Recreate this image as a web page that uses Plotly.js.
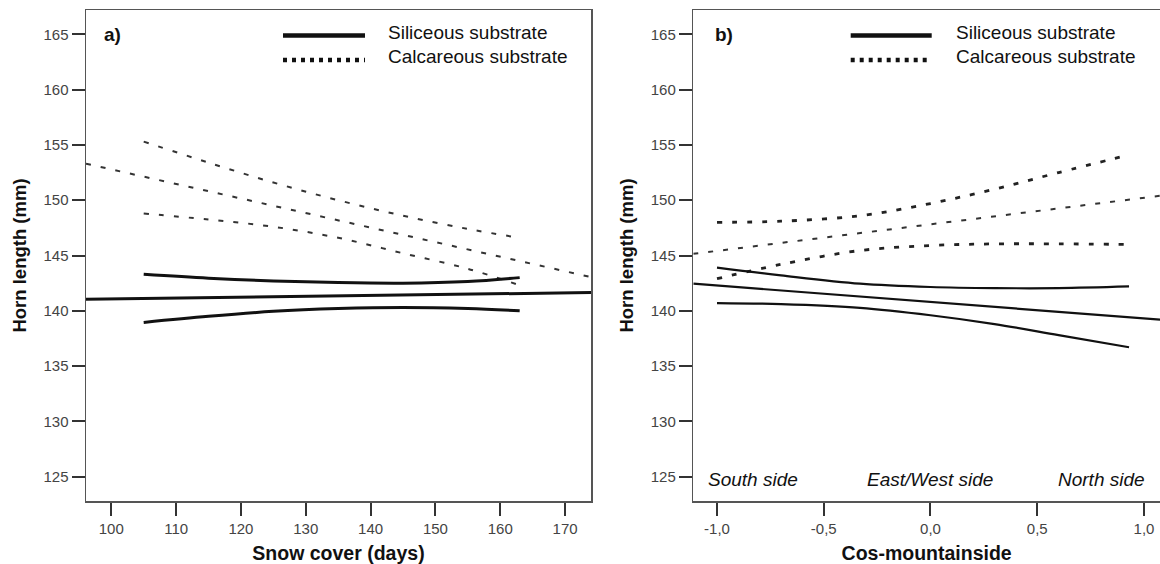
<!DOCTYPE html>
<html>
<head>
<meta charset="utf-8">
<script src="https://cdn.plot.ly/plotly-3.0.1.min.js"></script>
<style>html,body{margin:0;padding:0;background:#fff;}#chart{width:1160px;height:564px;}</style>
</head>
<body>
<div id="chart"></div>
<script>
// ---------- Panel a: Snow cover (days) ----------
const aFitX = [96.1, 174];
const aSilFit = [141.05, 141.65];
const aCalFit = [153.3, 143.05];
const aCiX = [105, 115, 125, 135, 145, 155, 163];
const aSilUpper = [143.3, 142.95, 142.7, 142.55, 142.5, 142.65, 143.0];
const aSilLower = [138.95, 139.5, 139.95, 140.2, 140.3, 140.2, 140.0];
const aCalUpper = [155.3, 153.4, 151.6, 150.0, 148.6, 147.4, 146.6];
const aCalLower = [148.8, 148.25, 147.6, 146.6, 145.2, 143.8, 142.3];
const aTickVals = [100, 110, 120, 130, 140, 150, 160, 170];

// ---------- Panel b: Cos-mountainside ----------
const bFitX = [-1.111, 1.075];
const bSilFit = [142.45, 139.2];
const bCalFit = [145.15, 150.4];
const bCiX = [-1.0, -0.7, -0.33, 0, 0.3, 0.6, 0.93];
const bSilUpper = [143.9, 143.2, 142.45, 142.15, 142.05, 142.05, 142.2];
const bSilLower = [140.7, 140.6, 140.27, 139.6, 138.8, 137.8, 136.7];
const bCalUpper = [148.0, 148.1, 148.6, 149.7, 151.0, 152.5, 154.1];
const bCalLower = [142.9, 144.2, 145.45, 145.9, 146.05, 146.05, 146.0];
const bTickVals = [-1, -0.5, 0, 0.5, 1];
const bTickText = ["-1,0", "-0,5", "0,0", "0,5", "1,0"];
const sideLabels = ["South side", "East/West side", "North side"];
const sideX = [-1.05, 0.0, 0.8];

// ---------- Common ----------
const yTickVals = [125, 130, 135, 140, 145, 150, 155, 160, 165];
const legendNames = ["Siliceous substrate", "Calcareous substrate"];
const panelLabels = ["a)", "b)"];
const yTitle = "Horn length (mm)";
const xTitles = ["Snow cover (days)", "Cos-mountainside"];

// ---------- layout helpers ----------
const W = 1160, H = 564;
const M = {l: 86, r: 0, t: 10, b: 63};
const PW = W - M.l - M.r, PH = H - M.t - M.b;
const px = v => (v - M.l) / PW;        // pixel x -> paper
const py = v => (H - M.b - v) / PH;    // pixel y -> paper

const FONT = "Liberation Sans, Arial, Helvetica, sans-serif";
const solidA = {color: '#111', width: 3, shape: 'spline', smoothing: 1};
const dashA = {color: '#333', width: 2, dash: '5px,10px', shape: 'spline', smoothing: 1};
const solidB = {color: '#111', width: 2.2, shape: 'spline', smoothing: 1};
const dashB = {color: '#222', width: 2.8, dash: '5px,10px', shape: 'spline', smoothing: 1};
const dashBfit = {color: '#333', width: 2, dash: '5px,10px'};

function tr(x, y, line, xa, ya) {
  return {x: x, y: y, type: 'scatter', mode: 'lines', line: line,
          xaxis: xa, yaxis: ya, showlegend: false, hoverinfo: 'skip'};
}

const data = [
  tr(aCiX, aCalUpper, dashA, 'x', 'y'),
  tr(aFitX, aCalFit, dashA, 'x', 'y'),
  tr(aCiX, aCalLower, dashA, 'x', 'y'),
  tr(aCiX, aSilUpper, solidA, 'x', 'y'),
  tr(aFitX, aSilFit, solidA, 'x', 'y'),
  tr(aCiX, aSilLower, solidA, 'x', 'y'),

  tr(bCiX, bCalUpper, dashB, 'x2', 'y2'),
  tr(bFitX, bCalFit, dashBfit, 'x2', 'y2'),
  tr(bCiX, bCalLower, dashB, 'x2', 'y2'),
  tr(bCiX, bSilUpper, solidB, 'x2', 'y2'),
  tr(bFitX, bSilFit, solidB, 'x2', 'y2'),
  tr(bCiX, bSilLower, solidB, 'x2', 'y2')
];

const axisCommon = {
  showline: true, mirror: true, linecolor: '#555', linewidth: 1.5,
  ticks: 'outside', ticklen: 13, tickwidth: 2, tickcolor: '#333',
  showgrid: false, zeroline: false, automargin: false,
  tickfont: {family: FONT, size: 15, color: '#444'}
};
const yAxisCommon = Object.assign({}, axisCommon, {
  range: [122.8, 167.2], tickmode: 'array', tickvals: yTickVals,
  title: {text: yTitle, standoff: 12, font: {family: FONT, size: 18.5, color: '#111', weight: 'bold'}}
});

const domA = [0, px(591)];
const domB = [px(693.3), 1];

const layout = {
  width: W, height: H,
  margin: M,
  paper_bgcolor: '#fff', plot_bgcolor: '#fff',
  font: {family: FONT},
  showlegend: false,
  xaxis: Object.assign({}, axisCommon, {
    domain: domA, range: [96.1, 174], tickmode: 'array', tickvals: aTickVals, anchor: 'y',
    title: {text: xTitles[0], standoff: 12, font: {family: FONT, size: 19.5, color: '#111', weight: 'bold'}}
  }),
  yaxis: Object.assign({}, yAxisCommon, {anchor: 'x'}),
  xaxis2: Object.assign({}, axisCommon, {
    domain: domB, range: [-1.111, 1.075], tickmode: 'array', tickvals: bTickVals, ticktext: bTickText, anchor: 'y2',
    title: {text: xTitles[1], standoff: 12, font: {family: FONT, size: 19.5, color: '#111', weight: 'bold'}}
  }),
  yaxis2: Object.assign({}, yAxisCommon, {anchor: 'x2'}),
  shapes: [],
  annotations: []
};

// legend samples + text for both panels
const legendPos = [
  {x0: 283, x1: 365, tx: 386},
  {x0: 850.7, x1: 931.7, tx: 954}
];
legendPos.forEach(p => {
  layout.shapes.push({type: 'line', xref: 'paper', yref: 'paper',
    x0: px(p.x0), x1: px(p.x1), y0: py(35.5), y1: py(35.5),
    line: {color: '#111', width: 4.5}});
  layout.shapes.push({type: 'line', xref: 'paper', yref: 'paper',
    x0: px(p.x0), x1: px(p.x1), y0: py(60), y1: py(60),
    line: {color: '#111', width: 4.5, dash: '4px,5px'}});
  legendNames.forEach((name, i) => {
    layout.annotations.push({xref: 'paper', yref: 'paper', x: px(p.tx), y: py(i === 0 ? 33 : 56),
      xanchor: 'left', yanchor: 'middle', showarrow: false, text: name,
      font: {family: FONT, size: 19, color: '#111'}});
  });
});

// panel letters
[[102, panelLabels[0]], [713, panelLabels[1]]].forEach(([x, t]) => {
  layout.annotations.push({xref: 'paper', yref: 'paper', x: px(x), y: py(34),
    xanchor: 'left', yanchor: 'middle', showarrow: false, text: '<b>' + t + '</b>',
    font: {family: FONT, size: 19, color: '#111'}});
});

// side labels (panel b)
sideLabels.forEach((t, i) => {
  layout.annotations.push({xref: 'x2', yref: 'y2', x: sideX[i], y: 124.7,
    xanchor: i === 0 ? 'left' : 'center', yanchor: 'middle', showarrow: false,
    text: '<i>' + t + '</i>', font: {family: FONT, size: 19, color: '#111'}});
});

Plotly.newPlot('chart', data, layout, {displayModeBar: false, staticPlot: true});
</script>
</body>
</html>
